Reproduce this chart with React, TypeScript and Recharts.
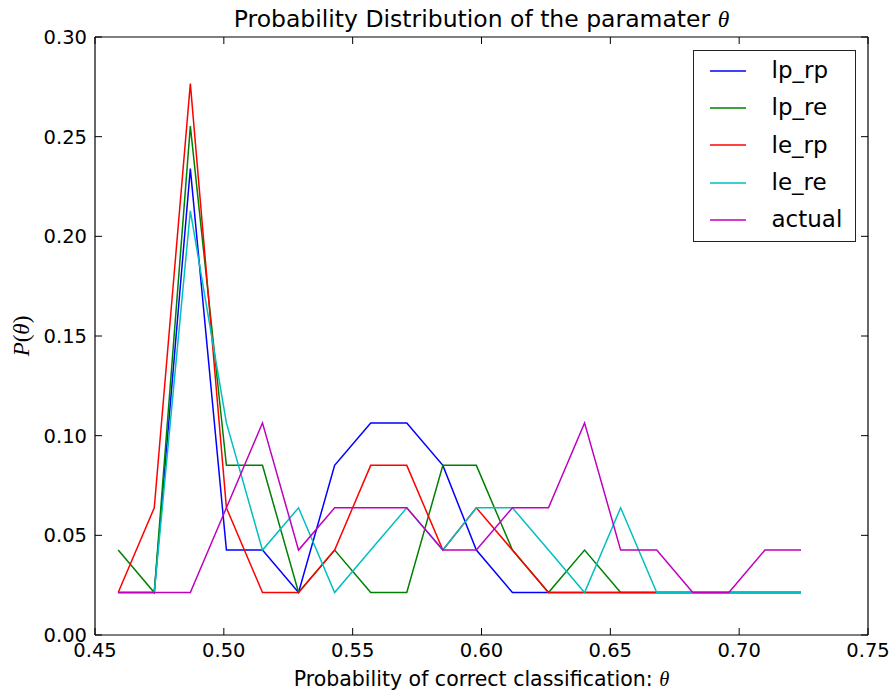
import { LineChart, Line, XAxis, YAxis, Legend } from "recharts";

// bin centres of theta
const theta = [
  0.459, 0.473, 0.487, 0.501, 0.515, 0.529, 0.543, 0.557, 0.571, 0.585,
  0.598, 0.612, 0.626, 0.64, 0.654, 0.668, 0.682, 0.696, 0.71, 0.724,
];

const lpRp = [
  0.0213, 0.0213, 0.234, 0.0426, 0.0426, 0.0213, 0.0851, 0.1064, 0.1064, 0.0851,
  0.0426, 0.0213, 0.0213, 0.0213, 0.0213, 0.0213, 0.0213, 0.0213, 0.0213, 0.0213,
];
const lpRe = [
  0.0426, 0.0213, 0.2553, 0.0851, 0.0851, 0.0213, 0.0426, 0.0213, 0.0213, 0.0851,
  0.0851, 0.0426, 0.0213, 0.0426, 0.0213, 0.0213, 0.0213, 0.0213, 0.0213, 0.0213,
];
const leRp = [
  0.0213, 0.0638, 0.2766, 0.0638, 0.0213, 0.0213, 0.0426, 0.0851, 0.0851, 0.0426,
  0.0638, 0.0426, 0.0213, 0.0213, 0.0213, 0.0213, 0.0213, 0.0213, 0.0213, 0.0213,
];
const leRe = [
  0.0213, 0.0213, 0.2128, 0.1064, 0.0426, 0.0638, 0.0213, 0.0426, 0.0638, 0.0426,
  0.0638, 0.0638, 0.0426, 0.0213, 0.0638, 0.0213, 0.0213, 0.0213, 0.0213, 0.0213,
];
const actual = [
  0.0213, 0.0213, 0.0213, 0.0638, 0.1064, 0.0426, 0.0638, 0.0638, 0.0638, 0.0426,
  0.0426, 0.0638, 0.0638, 0.1064, 0.0426, 0.0426, 0.0213, 0.0213, 0.0426, 0.0426,
];

const xTicks = [0.45, 0.5, 0.55, 0.6, 0.65, 0.7, 0.75];
const yTicks = [0, 0.05, 0.1, 0.15, 0.2, 0.25, 0.3];

const series = [
  { key: "lp_rp", color: "#0000ff" },
  { key: "lp_re", color: "#008000" },
  { key: "le_rp", color: "#ff0000" },
  { key: "le_re", color: "#00bfbf" },
  { key: "actual", color: "#bf00bf" },
];

const data = theta.map((x, i) => ({
  x,
  lp_rp: lpRp[i],
  lp_re: lpRe[i],
  le_rp: leRp[i],
  le_re: leRe[i],
  actual: actual[i],
}));

const FONT = "'DejaVu Sans', sans-serif";
const MATH = "'Liberation Serif', 'DejaVu Serif', serif";
const tickStyle = { fontSize: 19.5, fontFamily: FONT, fill: "#000" };

// matplotlib-style boxed legend, in plotting order
function LegendBox() {
  return (
    <div
      style={{
        width: 163,
        height: 192,
        boxSizing: "border-box",
        border: "1.5px solid #222",
        background: "#fff",
        paddingTop: 1,
      }}
    >
      {series.map((s) => (
        <div key={s.key} style={{ display: "flex", alignItems: "center", height: 37.3 }}>
          <svg width={36} height={4} style={{ marginLeft: 15.5 }}>
            <line x1={0} x2={36} y1={2} y2={2} stroke={s.color} strokeWidth={1.5} />
          </svg>
          <span
            style={{
              marginLeft: 26,
              fontSize: 23,
              fontFamily: FONT,
              color: "#000",
              lineHeight: "37px",
            }}
          >
            {s.key}
          </span>
        </div>
      ))}
    </div>
  );
}

export default function App() {
  return (
    <div style={{ position: "absolute", left: 0, top: 0, width: 894, height: 695, background: "#fff" }}>
      <LineChart
        width={894}
        height={695}
        data={data}
        margin={{ top: 36, right: 25, bottom: 20, left: 35 }}
      >
        <XAxis
          dataKey="x"
          type="number"
          domain={[0.45, 0.75]}
          ticks={xTicks}
          tickFormatter={(v: number) => v.toFixed(2)}
          height={40}
          tickSize={-7}
          tickMargin={15}
          tick={tickStyle}
          axisLine={{ stroke: "#000", strokeWidth: 1.2 }}
          tickLine={{ stroke: "#000" }}
          allowDataOverflow
        />
        <XAxis
          xAxisId="top"
          orientation="top"
          dataKey="x"
          type="number"
          domain={[0.45, 0.75]}
          ticks={xTicks}
          tickFormatter={() => ""}
          height={1}
          tickSize={-7}
          axisLine={{ stroke: "#000", strokeWidth: 1.2 }}
          tickLine={{ stroke: "#000" }}
          allowDataOverflow
        />
        <YAxis
          type="number"
          domain={[0, 0.3]}
          ticks={yTicks}
          tickFormatter={(v: number) => v.toFixed(2)}
          width={60}
          tickSize={-7}
          tickMargin={15}
          tick={tickStyle}
          axisLine={{ stroke: "#000", strokeWidth: 1.2 }}
          tickLine={{ stroke: "#000" }}
          allowDataOverflow
        />
        <YAxis
          yAxisId="right"
          orientation="right"
          type="number"
          domain={[0, 0.3]}
          ticks={yTicks}
          tickFormatter={() => ""}
          width={1}
          tickSize={-7}
          axisLine={{ stroke: "#000", strokeWidth: 1.2 }}
          tickLine={{ stroke: "#000" }}
          allowDataOverflow
        />
        <Legend
          layout="vertical"
          align="center"
          verticalAlign="middle"
          content={LegendBox}
          wrapperStyle={{ position: "absolute", left: 693, top: 50, width: 163, height: 192 }}
        />
        {series.map((s) => (
          <Line
            key={s.key}
            dataKey={s.key}
            stroke={s.color}
            strokeWidth={1.5}
            dot={false}
            isAnimationActive={false}
          />
        ))}
      </LineChart>
      <svg
        width={894}
        height={695}
        style={{ position: "absolute", left: 0, top: 0, pointerEvents: "none" }}
      >
        <text x={481.5} y={27} textAnchor="middle" fontSize={23.5} fontFamily={FONT} fill="#000">
          Probability Distribution of the paramater{" "}
          <tspan fontFamily={MATH} fontStyle="italic">θ</tspan>
        </text>
        <text x={481.5} y={686} textAnchor="middle" fontSize={20.5} fontFamily={FONT} fill="#000">
          Probability of correct classification:{" "}
          <tspan fontFamily={MATH} fontStyle="italic">θ</tspan>
        </text>
        <text
          transform="translate(29, 336) rotate(-90)"
          textAnchor="middle"
          fontSize={23}
          fontFamily={MATH}
          fill="#000"
        >
          <tspan fontStyle="italic">P</tspan>(<tspan fontStyle="italic">θ</tspan>)
        </text>
      </svg>
    </div>
  );
}
